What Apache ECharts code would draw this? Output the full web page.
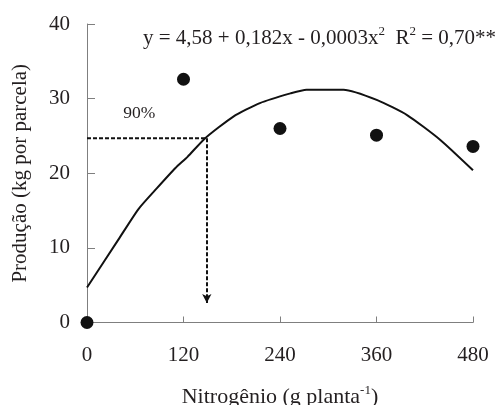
<!DOCTYPE html>
<html><head><meta charset="utf-8">
<script src="https://cdn.jsdelivr.net/npm/echarts@6/dist/echarts.min.js"></script>
<style>html,body{margin:0;padding:0;background:#fff}#c{width:502px;height:405px}</style>
</head><body><div id="c"></div>
<script>
var xTicks = [0, 120, 240, 360, 480];
var yTicks = [0, 10, 20, 30, 40];
var obsX = [0, 120, 240, 360, 480];
var obsY = [0, 32.6, 26.0, 25.1, 23.6];
var curveX = [0, 39, 64, 87, 110, 125, 147, 182, 215, 253, 273, 319, 361, 398, 439, 480];
var curveY = [4.7, 11.1, 15.2, 18.0, 20.7, 22.2, 24.7, 27.6, 29.4, 30.7, 31.2, 31.2, 29.8, 27.8, 24.5, 20.4];
var guideX = 149, guideY = 24.7, arrowEndY = 2.6;
var labelPos = [65, 28.0];
var txt = '#231f20', axisCol = '#7f7f7f';
var font = '"Liberation Serif", "DejaVu Serif", serif';

var chart = echarts.init(document.getElementById('c'));
chart.setOption({
  animation: false,
  textStyle: { fontFamily: font, color: txt },
  grid: { left: 87, right: 29, top: 24, bottom: 82.5, outerBoundsMode: 'none', containLabel: false },
  xAxis: {
    type: 'value', min: 0, max: 480, interval: 120,
    name: '{n|Nitrogênio (g planta}{s|-1}{n|)}',
    nameLocation: 'middle', nameGap: 62,
    nameTextStyle: { rich: {
      n: { fontFamily: font, fontSize: 22, color: txt, lineHeight: 24, verticalAlign: 'bottom' },
      s: { fontFamily: font, fontSize: 13, color: txt, lineHeight: 24, verticalAlign: 'top' } } },
    axisLine: { lineStyle: { color: axisCol, width: 1 } },
    axisTick: { inside: true, length: 6, lineStyle: { color: axisCol } },
    axisLabel: { fontSize: 21, color: txt, margin: 22, fontFamily: font },
    splitLine: { show: false }
  },
  yAxis: {
    type: 'value', min: 0, max: 40, interval: 10,
    name: 'Produção (kg por parcela)', nameLocation: 'middle', nameGap: 56,
    nameTextStyle: { fontSize: 21, color: txt, fontFamily: font },
    axisLine: { show: true, lineStyle: { color: axisCol, width: 1 } },
    axisTick: { show: true, inside: true, length: 8, lineStyle: { color: axisCol } },
    axisLabel: { fontSize: 21, color: txt, margin: 17, fontFamily: font },
    splitLine: { show: false }
  },
  graphic: [{
    type: 'text', left: 143, top: 25,
    style: {
      text: '{n|y = 4,58 + 0,182x - 0,0003x}{s|2}{n|  R}{s|2}{n| = 0,70**}',
      rich: {
        n: { fontFamily: font, fontSize: 21, fill: txt, lineHeight: 24, verticalAlign: 'bottom' },
        s: { fontFamily: font, fontSize: 13, fill: txt, lineHeight: 24, verticalAlign: 'top' }
      }
    }
  }],
  series: [
    {
      type: 'line', data: curveX.map(function (x, i) { return [x, curveY[i]]; }),
      smooth: 0.2, showSymbol: false, symbol: 'none',
      lineStyle: { color: '#111', width: 2 }, z: 3
    },
    {
      type: 'line', data: [[0, guideY], [guideX, guideY]], symbol: 'none',
      lineStyle: { color: '#111', width: 2, type: [4, 2] }, z: 2,
      markLine: {
        silent: true, symbol: ['none', 'arrow'], symbolSize: [7, 9],
        label: { show: false },
        lineStyle: { color: '#111', width: 2, type: [4, 2] },
        data: [[{ coord: [guideX, guideY] }, { coord: [guideX, arrowEndY] }]]
      }
    },
    {
      type: 'scatter', data: [labelPos], symbolSize: 0, itemStyle: { opacity: 1 },
      label: { show: true, position: 'inside', formatter: '90%', fontSize: 17.5, color: txt, fontFamily: font }
    },
    {
      type: 'scatter', data: obsX.map(function (x, i) { return [x, obsY[i]]; }),
      symbolSize: 13, itemStyle: { color: '#111', opacity: 1 }, clip: false, z: 5
    }
  ]
});
</script></body></html>
